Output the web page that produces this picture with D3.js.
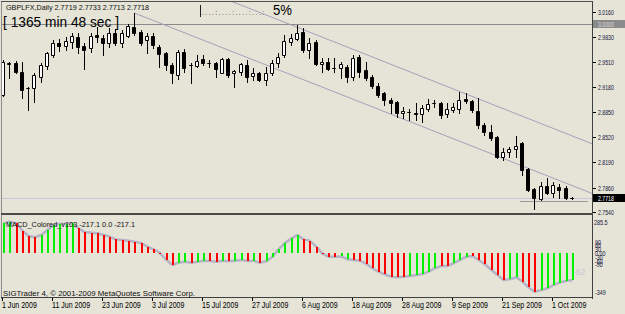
<!DOCTYPE html>
<html>
<head>
<meta charset="utf-8">
<script src="https://cdn.jsdelivr.net/npm/d3@7"></script>
<style>
  body { margin: 0; background: #e5e4d7; }
  svg { display: block; font-family: "Liberation Sans", Arial, sans-serif; }
</style>
</head>
<body>
<svg id="chart" width="625" height="314"></svg>
<script>
// GBPUSD daily, 1 Jun 2009 .. 6 Oct 2009 (bar index 0..91)
const opens = [2.9072,2.9479,2.9492,2.9374,2.9160,2.9164,2.9308,2.9452,2.9596,2.9754,
  2.9714,2.9767,2.9832,2.9714,2.9688,2.9858,2.9819,2.9754,2.9885,2.9754,
  2.9845,2.9963,2.9898,2.9793,2.9845,2.9701,2.9623,2.9465,2.9334,2.9636,
  2.9465,2.9452,2.9544,2.9492,2.9492,2.9361,2.9544,2.9361,2.9374,2.9465,
  2.9321,2.9361,2.9269,2.9361,2.9492,2.9596,2.9767,2.9806,2.9898,2.9662,
  2.9767,2.9479,2.9505,2.9426,2.9426,2.9439,2.9308,2.9570,2.9400,2.9308,
  2.9190,2.9099,2.9007,2.8981,2.8837,2.8850,2.8837,2.8824,2.8889,2.8968,
  2.8968,2.8824,2.8876,2.8889,2.9020,2.8994,2.8863,2.8679,2.8588,2.8522,
  2.8260,2.8326,2.8365,2.8444,2.8103,2.7841,2.7710,2.7880,2.7789,2.7867,
  2.7854,2.7719];
const highs = [2.9531,2.9505,2.9518,2.9505,2.9177,2.9361,2.9492,2.9636,2.9793,2.9806,
  2.9832,2.9885,2.9885,2.9754,2.9885,2.9963,2.9858,2.9950,2.9937,2.9924,
  3.0003,3.0147,2.9924,2.9885,2.9885,2.9727,2.9636,2.9492,2.9662,2.9675,
  2.9492,2.9596,2.9596,2.9531,2.9505,2.9557,2.9557,2.9400,2.9492,2.9531,
  2.9426,2.9374,2.9439,2.9531,2.9623,2.9858,2.9872,2.9989,2.9950,2.9819,
  2.9793,2.9557,2.9557,2.9557,2.9505,2.9465,2.9596,2.9596,2.9505,2.9334,
  2.9230,2.9112,2.9033,2.8994,2.8915,2.8889,2.8968,2.8941,2.9020,2.9007,
  2.8981,2.8968,2.8968,2.9112,2.9099,2.9007,2.9033,2.8706,2.8679,2.8535,
  2.8378,2.8391,2.8535,2.8457,2.8116,2.7854,2.7933,2.7985,2.7933,2.7907,
  2.7880,2.7733];
const lows = [2.9059,2.9295,2.9361,2.9033,2.8876,2.8981,2.9243,2.9413,2.9570,2.9649,
  2.9662,2.9688,2.9623,2.9413,2.9636,2.9767,2.9596,2.9701,2.9727,2.9701,
  2.9832,2.9858,2.9727,2.9623,2.9688,2.9439,2.9400,2.9230,2.9282,2.9374,
  2.9230,2.9439,2.9465,2.9439,2.9308,2.9355,2.9308,2.9177,2.9334,2.9243,
  2.9269,2.9256,2.9203,2.9334,2.9439,2.9570,2.9727,2.9793,2.9636,2.9557,
  2.9465,2.9374,2.9400,2.9374,2.9295,2.9243,2.9269,2.9308,2.9269,2.9164,
  2.9046,2.8941,2.8837,2.8784,2.8771,2.8745,2.8745,2.8719,2.8863,2.8915,
  2.8771,2.8784,2.8850,2.8837,2.8968,2.8850,2.8640,2.8548,2.8483,2.8247,
  2.8221,2.8260,2.8260,2.8024,2.7815,2.7579,2.7697,2.7776,2.7736,2.7723,
  2.7710,2.7713];
const closes = [2.9505,2.9492,2.9374,2.9138,2.9170,2.9334,2.9465,2.9623,2.9754,2.9714,
  2.9780,2.9845,2.9701,2.9662,2.9845,2.9832,2.9754,2.9885,2.9754,2.9885,
  2.9976,2.9885,2.9754,2.9845,2.9727,2.9610,2.9465,2.9361,2.9636,2.9426,
  2.9460,2.9518,2.9492,2.9486,2.9413,2.9544,2.9334,2.9387,2.9479,2.9308,
  2.9361,2.9269,2.9361,2.9492,2.9570,2.9780,2.9819,2.9885,2.9662,2.9754,
  2.9479,2.9505,2.9413,2.9420,2.9479,2.9308,2.9557,2.9374,2.9295,2.9190,
  2.9072,2.9007,2.8968,2.8837,2.8863,2.8845,2.8830,2.8902,2.8955,2.8962,
  2.8810,2.8889,2.8915,2.9007,2.8994,2.8876,2.8679,2.8588,2.8509,2.8260,
  2.8326,2.8365,2.8404,2.8090,2.7828,2.7723,2.7880,2.7789,2.7893,2.7828,
  2.7723,2.7718];

// MACD_Colored histogram (points) and colour flag (1 = green, 0 = red)
const macd = [235,249,235,177,135,125,143,183,222,230,
  232,235,196,167,161,156,143,130,108,103,
  98,90,77,50,29,3,-56,-95,-77,-69,
  -77,-69,-61,-63,-69,-61,-66,-61,-56,-63,
  -61,-77,-66,-29,29,77,116,143,108,98,
  50,-5,-29,-29,-27,-50,-56,-61,-87,-122,
  -148,-169,-188,-193,-188,-183,-175,-167,-148,-122,
  -103,-103,-82,-56,-29,-24,-56,-87,-135,-175,
  -214,-209,-193,-228,-272,-307,-294,-280,-254,-235,
  -220,-217.1];
const macdUp = [1,1,0,0,0,0,1,1,1,1,
  1,1,0,0,0,0,0,0,0,0,
  0,0,0,0,0,0,0,0,1,1,
  0,1,1,0,0,1,0,1,1,0,
  1,0,1,1,1,1,1,1,0,0,
  0,0,0,0,1,1,0,0,0,0,
  0,0,0,0,0,1,1,1,1,1,
  0,0,1,1,1,0,0,0,0,0,
  0,1,1,0,0,0,1,1,1,1,
  1,1];

const xTickBars = [0, 8, 16, 24, 32, 40, 48, 56, 64, 72, 80, 88];
const xTickLabels = ['1 Jun 2009', '11 Jun 2009', '23 Jun 2009', '3 Jul 2009', '15 Jul 2009', '27 Jul 2009',
  '6 Aug 2009', '18 Aug 2009', '28 Aug 2009', '9 Sep 2009', '21 Sep 2009', '1 Oct 2009'];
const priceTicks = [3.0160, 2.9830, 2.9510, 2.9180, 2.8850, 2.8520, 2.8190, 2.7860, 2.7540];
const macdTicks = [90, 60, 30, 0, -30, -60, -90];
const macdRange = [-349, 285.5];

// channel lines: [bar, price] anchors
const channelLower = [[21, 3.0147], [91, 2.7888]];
const channelUpper = [[47, 2.9962], [91, 2.8539]];
const roundLevel = 3.0000;
const bidPrice = 2.7718;
const supportLine = { fromBar: 83, price: 2.7688 };

const svg = d3.select('#chart');
const bg = '#e5e4d7';

const x = d3.scaleLinear().domain([0, 91]).range([3, 571.75]);
const y = d3.scaleLinear().domain([2.7540, 3.0160]).range([212, 12]);
const ym = d3.scaleLinear().domain(macdRange).range([297, 217]);
const px = i => Math.round(x(i));
const snap = v => Math.round(v) + 0.5;

function squeeze(sel, k) {
  sel.each(function () {
    const w = this.getComputedTextLength();
    d3.select(this).attr('textLength', w * k).attr('lengthAdjust', 'spacingAndGlyphs');
  });
}
function fit(sel, w) {
  sel.attr('textLength', w).attr('lengthAdjust', 'spacingAndGlyphs');
}

svg.append('rect').attr('width', 625).attr('height', 314).attr('fill', bg);

const defs = svg.append('defs');
defs.append('clipPath').attr('id', 'clipMain')
  .append('rect').attr('x', 2).attr('y', 2).attr('width', 590).attr('height', 211);
defs.append('clipPath').attr('id', 'clipMacd')
  .append('rect').attr('x', 2).attr('y', 215).attr('width', 590).attr('height', 82);

// ---- main price window
const main = svg.append('g').attr('clip-path', 'url(#clipMain)');

main.append('line')
  .attr('x1', 2).attr('x2', 592)
  .attr('y1', snap(y(roundLevel))).attr('y2', snap(y(roundLevel)))
  .attr('stroke', '#8a8a8a');

main.append('line')
  .attr('x1', 2).attr('x2', 592)
  .attr('y1', snap(y(bidPrice))).attr('y2', snap(y(bidPrice)))
  .attr('stroke', '#c6c6de');

main.append('line')
  .attr('x1', px(supportLine.fromBar) - 2).attr('x2', 588)
  .attr('y1', snap(y(supportLine.price))).attr('y2', snap(y(supportLine.price)))
  .attr('stroke', '#9a9a9a');

function ray(anchors, fromBar) {
  const [[b0, p0], [b1, p1]] = anchors;
  const slope = (p1 - p0) / (b1 - b0);
  const endBar = x.invert(592);
  return [[x(fromBar), y(p0 + slope * (fromBar - b0))], [592, y(p0 + slope * (endBar - b0))]];
}
const chanLine = d3.line();
main.append('path').attr('d', chanLine(ray(channelLower, channelLower[0][0])))
  .attr('fill', 'none').attr('stroke', '#a2a2ba').attr('stroke-width', 1);
main.append('path').attr('d', chanLine(ray(channelUpper, 0)))
  .attr('fill', 'none').attr('stroke', '#a2a2ba').attr('stroke-width', 1);

const bars = opens.map((o, i) => ({ i, o, h: highs[i], l: lows[i], c: closes[i] }));

main.selectAll('line.wick').data(bars).join('line')
  .attr('class', 'wick')
  .attr('x1', d => px(d.i) + 0.5).attr('x2', d => px(d.i) + 0.5)
  .attr('y1', d => Math.round(y(d.h))).attr('y2', d => Math.round(y(d.l)) + 1)
  .attr('stroke', '#000');

main.selectAll('path.body').data(bars).join('path')
  .attr('class', 'body')
  .attr('d', d => {
    const x0 = px(d.i) - 1.5, x1 = px(d.i) + 1.5;
    const y0 = snap(y(Math.max(d.o, d.c))), y1 = snap(y(Math.min(d.o, d.c)));
    return `M${x0},${y0}H${x1}V${y1}H${x0}Z`;
  })
  .attr('fill', d => d.c >= d.o ? '#ffffff' : '#000000')
  .attr('stroke', '#000');

// ---- MACD window
const sub = svg.append('g').attr('clip-path', 'url(#clipMacd)');
sub.append('path')
  .datum(macd)
  .attr('d', d3.line().x((d, i) => px(i) + 0.5).y(d => ym(d)))
  .attr('fill', 'none').attr('stroke', '#b4b4c6').attr('stroke-width', 2.5)
  .attr('stroke-linejoin', 'round');

sub.selectAll('rect.hist').data(macd).join('rect')
  .attr('class', 'hist')
  .attr('x', (d, i) => px(i))
  .attr('width', 2)
  .attr('y', d => Math.round(Math.min(ym(0), ym(d))))
  .attr('height', d => Math.max(1, Math.round(Math.abs(ym(d) - ym(0)))))
  .attr('fill', (d, i) => macdUp[i] ? '#00f000' : '#ff0000');

// ---- frame
const frame = svg.append('g').attr('fill', 'none');
frame.append('line').attr('x1', 1.5).attr('x2', 1.5).attr('y1', 1).attr('y2', 299).attr('stroke', '#8c8c8c');
frame.append('line').attr('x1', 1).attr('x2', 593).attr('y1', 1.5).attr('y2', 1.5).attr('stroke', '#505050');
frame.append('line').attr('x1', 592.5).attr('x2', 592.5).attr('y1', 1).attr('y2', 299).attr('stroke', '#404040');
frame.append('rect').attr('x', 1).attr('y', 213).attr('width', 592).attr('height', 2).attr('fill', '#4a4a4a');
frame.append('line').attr('x1', 1).attr('x2', 593).attr('y1', 297.5).attr('y2', 297.5).attr('stroke', '#404040');

// ---- right price axis
const rAxis = svg.append('g').attr('font-size', 7.5).attr('fill', '#14143c');
rAxis.selectAll('line').data(priceTicks).join('line')
  .attr('x1', 593).attr('x2', 596)
  .attr('y1', d => snap(y(d))).attr('y2', d => snap(y(d)))
  .attr('stroke', '#000');
rAxis.selectAll('text').data(priceTicks).join('text')
  .attr('x', 598).attr('y', d => Math.round(y(d)) + 3)
  .text(d => d3.format('.4f')(d))
  .call(squeeze, 0.69);

function priceTag(value, fill, color) {
  const g = svg.append('g');
  const cy = Math.round(y(value));
  g.append('rect').attr('x', 593).attr('y', cy - 4).attr('width', 32).attr('height', 8).attr('fill', fill);
  g.append('text').attr('x', 598).attr('y', cy + 3).attr('font-size', 7.5).attr('fill', color)
    .text(d3.format('.4f')(value)).call(squeeze, 0.69);
}
priceTag(roundLevel, '#8a8a8a', '#dcdcdc');
priceTag(bidPrice, '#000000', '#ffffff');

// ---- MACD axis labels
const mAxis = svg.append('g').attr('font-size', 7.5).attr('fill', '#14143c');
mAxis.selectAll('text.lvl').data(macdTicks).join('text')
  .attr('class', 'lvl')
  .attr('x', 595).attr('y', d => Math.round(ym(d)) + 3)
  .text(d => d === 0 ? '0.00' : d)
  .call(squeeze, 0.72);
mAxis.append('text').attr('x', 594).attr('y', ym(macdRange[1]) + 8).text(macdRange[1]).call(squeeze, 0.72);
mAxis.append('text').attr('x', 595).attr('y', ym(macdRange[0]) - 2).text(macdRange[0]).call(squeeze, 0.72);

svg.append('text').attr('x', 573).attr('y', 275).attr('font-size', 9).attr('fill', '#c4c4d4')
  .text('-62').call(squeeze, 0.95);

// ---- time axis
const tAxis = svg.append('g');
tAxis.selectAll('line').data(xTickBars).join('line')
  .attr('x1', d => px(d) - 0.5).attr('x2', d => px(d) - 0.5)
  .attr('y1', 298).attr('y2', 301).attr('stroke', '#000');
tAxis.selectAll('text').data(xTickBars).join('text')
  .attr('x', d => px(d) - 1).attr('y', 308)
  .attr('font-size', 9.5).attr('fill', '#000')
  .text((d, i) => xTickLabels[i])
  .call(squeeze, 0.74);

// ---- captions
svg.append('text').attr('x', 6).attr('y', 10).attr('font-size', 7.5).attr('fill', '#111')
  .text('GBPLFX,Daily  2.7719 2.7733 2.7713 2.7718').call(fit, 143);
svg.append('text').attr('x', 3).attr('y', 27).attr('font-size', 15).attr('fill', '#000')
  .text('[ 1365 min 48 sec ]').call(fit, 116);
svg.append('line').attr('x1', 200.5).attr('x2', 200.5).attr('y1', 5).attr('y2', 17).attr('stroke', '#222');
svg.append('text').attr('x', 202).attr('y', 15).attr('font-size', 8).attr('fill', '#222')
  .text('. . . . : . . . . : . . . . : . . . :').call(fit, 62);
svg.append('text').attr('x', 273).attr('y', 15).attr('font-size', 14).attr('fill', '#000')
  .text('5%').call(fit, 19);
svg.append('text').attr('x', 6).attr('y', 226.5).attr('font-size', 7.5).attr('fill', '#111')
  .text('MACD_Colored_v103 -217.1 0.0 -217.1').call(fit, 129);
svg.append('text').attr('x', 3).attr('y', 296).attr('font-size', 7.5).attr('fill', '#111')
  .text('SIGTrader 4, \u00a9 2001-2009 MetaQuotes Software Corp.').call(fit, 192);
</script>
</body>
</html>
